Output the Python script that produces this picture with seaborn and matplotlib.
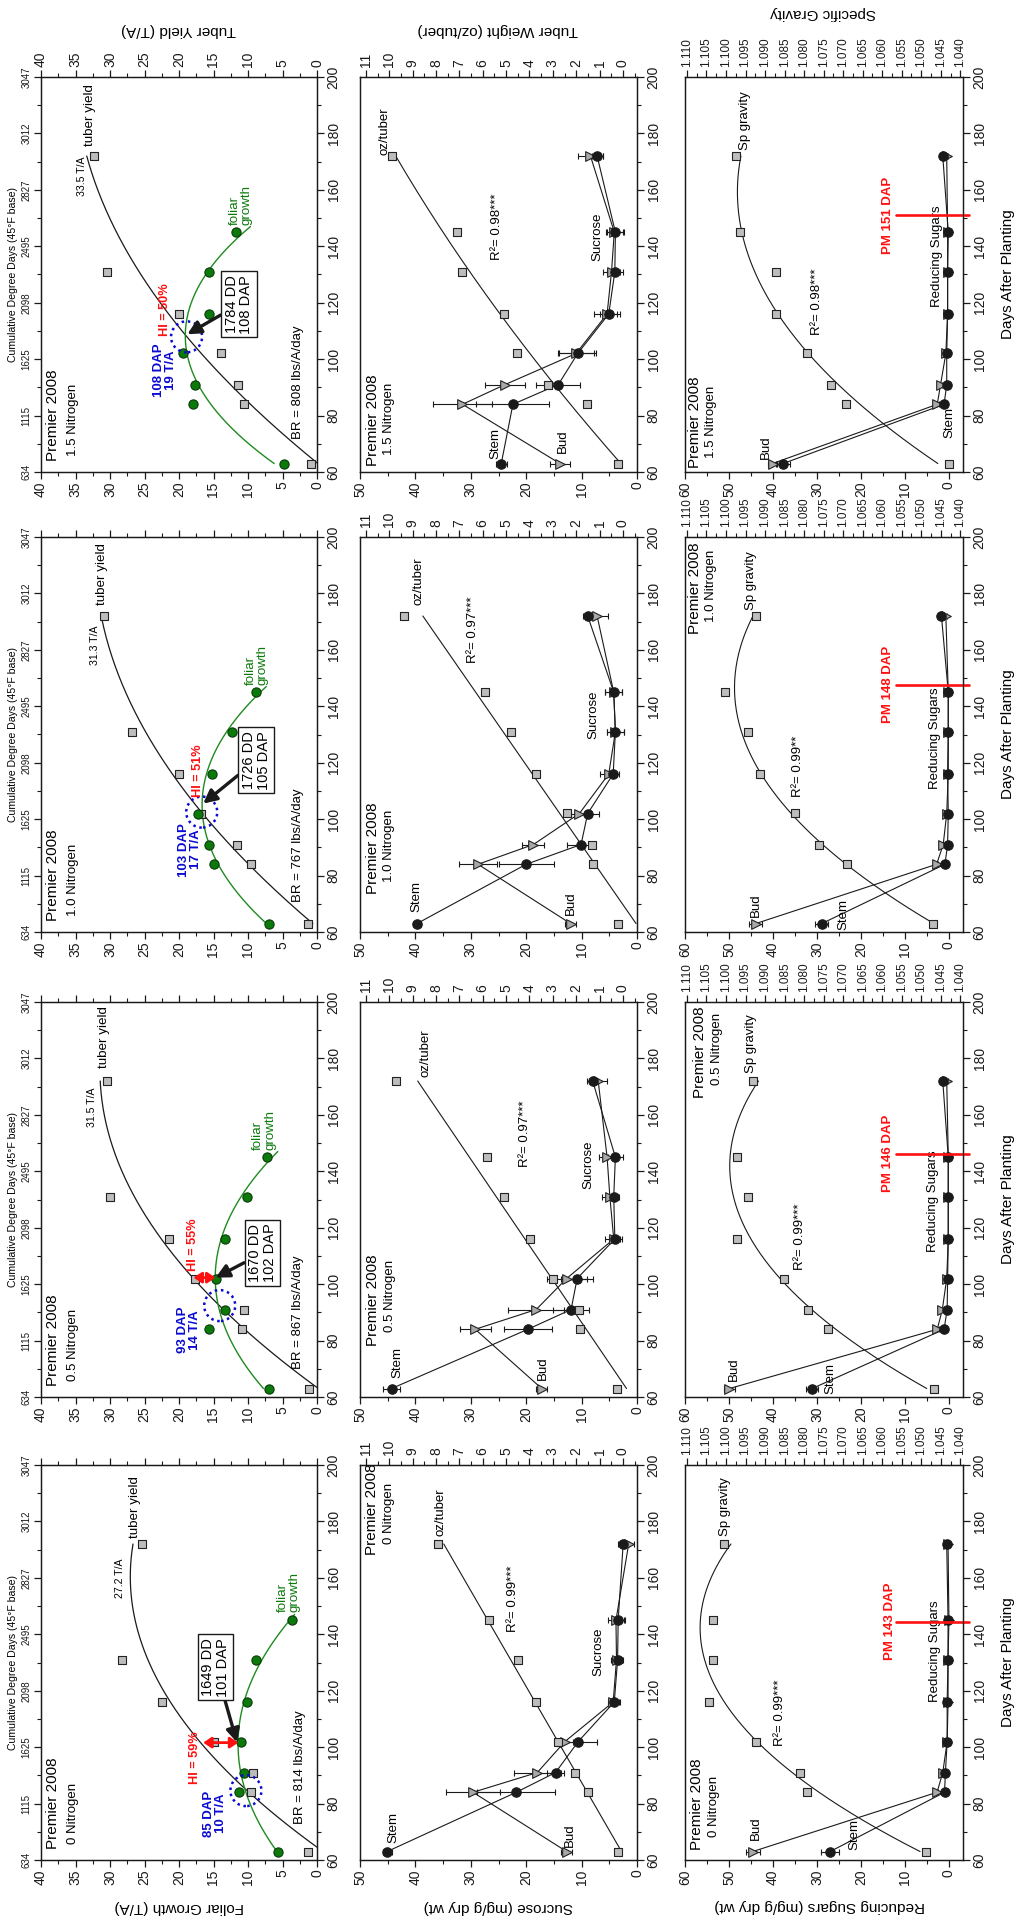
import numpy as np
import pandas as pd
import seaborn as sns
import matplotlib
matplotlib.use('Agg')
import matplotlib.pyplot as plt
from matplotlib.patches import Ellipse
from matplotlib.ticker import MultipleLocator

# ---------------------------------------------------------------- data
N_LEVELS = ['0', '0.5', '1.0', '1.5']
DAYS = [63, 84, 91, 102, 116, 131, 145, 172]
FOLIAR_DAYS = [63, 84, 91, 102, 116, 131, 145]
TUBER_DAYS = [63, 84, 91, 102, 116, 131, 172]
DAY_TICKS = [60, 80, 100, 120, 140, 160, 180, 200]
CDD_LABELS = ['634', '1115', '1625', '2098', '2495', '2827', '3012', '3047']

# foliar growth (T/A)
foliar_n00 = [5.6, 11.3, 10.6, 11.0, 10.1, 8.9, 3.6]
foliar_n05 = [6.9, 15.6, 13.4, 14.7, 13.3, 10.1, 7.3]
foliar_n10 = [6.9, 15.0, 15.6, 17.3, 15.2, 12.3, 8.9]
foliar_n15 = [4.8, 18.0, 17.7, 19.4, 15.6, 15.6, 11.7]
# tuber yield (T/A)
tuber_n00 = [1.3, 9.5, 9.3, 15.0, 22.5, 28.3, 25.4]
tuber_n05 = [1.1, 10.8, 10.6, 17.7, 21.5, 30.0, 30.5]
tuber_n10 = [1.35, 9.5, 11.6, 16.8, 20.0, 26.8, 30.8]
tuber_n15 = [0.8, 10.6, 11.4, 13.9, 20.0, 30.5, 32.3]

# sucrose (mg/g dry wt): stem and bud, with error
suc_stem_n00 = [45.1, 21.8, 14.7, 10.6, 4.1, 3.5, 3.4, 2.5]
suc_stem_err_n00 = [0.8, 7.0, 1.5, 3.3, 1.0, 1.0, 1.2, 1.0]
suc_bud_n00 = [12.7, 29.6, 18.0, 13.0, 4.3, 3.7, 3.8, 1.5]
suc_bud_err_n00 = [1.0, 4.8, 4.2, 1.5, 1.0, 1.0, 1.5, 1.0]
suc_stem_n05 = [44.3, 19.7, 11.9, 10.8, 4.0, 4.2, 3.9, 8.0]
suc_stem_err_n05 = [1.5, 4.3, 3.3, 2.9, 1.0, 1.0, 1.3, 1.0]
suc_bud_n05 = [17.2, 29.2, 18.2, 12.7, 4.2, 4.9, 5.4, 7.0]
suc_bud_err_n05 = [1.0, 2.8, 5.0, 3.6, 1.5, 1.4, 1.5, 1.5]
suc_stem_n10 = [39.7, 20.0, 10.1, 8.9, 4.3, 3.9, 4.2, 8.9]
suc_stem_err_n10 = [0.8, 5.0, 2.6, 2.1, 1.0, 1.5, 1.5, 0.8]
suc_bud_n10 = [12.0, 28.7, 18.7, 10.4, 5.1, 3.9, 4.2, 7.2]
suc_bud_err_n10 = [1.0, 3.4, 2.0, 1.5, 1.5, 1.5, 1.5, 1.9]
suc_stem_n15 = [24.5, 22.4, 14.2, 10.7, 5.1, 4.0, 3.9, 7.2]
suc_stem_err_n15 = [1.0, 6.6, 4.0, 3.3, 1.5, 1.5, 1.5, 1.0]
suc_bud_n15 = [13.9, 31.5, 23.8, 11.0, 5.4, 4.6, 4.1, 8.4]
suc_bud_err_n15 = [1.8, 5.3, 3.6, 3.2, 2.3, 1.5, 1.5, 2.2]

# tuber weight (oz/tuber)
oz_n00 = [0.2, 1.5, 2.05, 2.8, 3.7, 4.5, 5.75, 7.9]
oz_n05 = [0.27, 1.84, 1.9, 3.0, 3.97, 5.1, 5.8, 9.7]
oz_n10 = [0.2, 1.3, 1.34, 2.4, 3.7, 4.8, 5.9, 9.36]
oz_n15 = [0.2, 1.55, 3.2, 4.54, 5.1, 6.9, 7.1, 9.9]
OZ_FIT_ORDER = [1, 1, 1, 2]

# reducing sugars (mg/g dry wt)
rs_stem_n00 = [27.0, 1.0, 0.8, 0.4, 0.4, 0.2, 0.2, 0.5]
rs_bud_n00 = [44.6, 2.7, 1.4, 0.4, 0.2, 0.2, 0.0, 0.2]
rs_stem_n05 = [31.1, 1.1, 0.4, 0.3, 0.15, 0.15, 0.15, 1.4]
rs_bud_n05 = [49.9, 2.65, 1.5, 0.5, 0.15, 0.15, 0.15, 0.5]
rs_stem_n10 = [28.9, 0.9, 0.3, 0.15, 0.3, 0.15, 0.15, 1.7]
rs_bud_n10 = [43.9, 2.8, 1.3, 0.5, 0.15, 0.15, 0.15, 0.7]
rs_stem_n15 = [37.7, 1.1, 0.5, 0.5, 0.3, 0.3, 0.15, 1.4]
rs_bud_n15 = [40.1, 2.65, 1.9, 0.7, 0.3, 0.3, 0.3, 0.5]
rs_stem_err_n00 = [2.1, 0.3, 0.3, 0.3, 0.3, 0.3, 0.3, 0.3]
rs_bud_err_n00 = [1.6, 0.3, 0.3, 0.3, 0.3, 0.3, 0.3, 0.3]
rs_stem_err_n05 = [1.3, 0.3, 0.3, 0.3, 0.3, 0.3, 0.3, 0.3]
rs_bud_err_n05 = [1.3, 0.3, 0.3, 0.3, 0.3, 0.3, 0.3, 0.3]
rs_stem_err_n10 = [1.5, 0.3, 0.3, 0.3, 0.3, 0.3, 0.3, 0.3]
rs_bud_err_n10 = [1.5, 0.3, 0.3, 0.3, 0.3, 0.3, 0.3, 0.3]
rs_stem_err_n15 = [1.5, 0.3, 0.3, 0.3, 0.3, 0.3, 0.3, 0.3]
rs_bud_err_n15 = [1.0, 0.3, 0.3, 0.3, 0.3, 0.3, 0.3, 0.3]

# specific gravity
sg_n00 = [1.0488, 1.0792, 1.0811, 1.0922, 1.1044, 1.1033, 1.1033, 1.1005]
sg_n05 = [1.0468, 1.0739, 1.0790, 1.0852, 1.0973, 1.0943, 1.0973, 1.0932]
sg_n10 = [1.0469, 1.0690, 1.0762, 1.0822, 1.0912, 1.0943, 1.1003, 1.0924]
sg_n15 = [1.0428, 1.0692, 1.0732, 1.0793, 1.0873, 1.0873, 1.0965, 1.0975]

# annotation texts / values
HI_TEXT = ['HI = 59%', 'HI = 55%', 'HI = 51%', 'HI = 50%']
BR_TEXT = ['BR = 814 lbs/A/day', 'BR = 867 lbs/A/day', 'BR = 767 lbs/A/day', 'BR = 808 lbs/A/day']
DD_BOX = ['1649 DD\n101 DAP', '1670 DD\n102 DAP', '1726 DD\n105 DAP', '1784 DD\n108 DAP']
DAP_TEXT = ['85 DAP\n10 T/A', '93 DAP\n14 T/A', '103 DAP\n17 T/A', '108 DAP\n19 T/A']
YIELD_TEXT = ['27.2 T/A', '31.5 T/A', '31.3 T/A', '33.5 T/A']
R2_SUC = ['0.99***', '0.97***', '0.97***', '0.98***']
R2_SG = ['0.99***', '0.99***', '0.99**', '0.98***']
PM_DAP = [143, 146, 148, 151]
PM_LINE_DAY = [144.5, 146.3, 147.7, 151.0]

FOLIAR = [foliar_n00, foliar_n05, foliar_n10, foliar_n15]
TUBER = [tuber_n00, tuber_n05, tuber_n10, tuber_n15]
SUC_STEM = [suc_stem_n00, suc_stem_n05, suc_stem_n10, suc_stem_n15]
SUC_STEM_ERR = [suc_stem_err_n00, suc_stem_err_n05, suc_stem_err_n10, suc_stem_err_n15]
SUC_BUD = [suc_bud_n00, suc_bud_n05, suc_bud_n10, suc_bud_n15]
SUC_BUD_ERR = [suc_bud_err_n00, suc_bud_err_n05, suc_bud_err_n10, suc_bud_err_n15]
OZ = [oz_n00, oz_n05, oz_n10, oz_n15]
RS_STEM = [rs_stem_n00, rs_stem_n05, rs_stem_n10, rs_stem_n15]
RS_BUD = [rs_bud_n00, rs_bud_n05, rs_bud_n10, rs_bud_n15]
RS_STEM_ERR = [rs_stem_err_n00, rs_stem_err_n05, rs_stem_err_n10, rs_stem_err_n15]
RS_BUD_ERR = [rs_bud_err_n00, rs_bud_err_n05, rs_bud_err_n10, rs_bud_err_n15]
SG = [sg_n00, sg_n05, sg_n10, sg_n15]

# ---------------------------------------------------------------- layout
W, H = 1021, 1923
PH = 395
TOPS = [1465, 1002, 537, 77]
FOL_X = (41, 317)
SUC_X = (360, 637)
RS_X = (685, 963)

FOL_POS = [
    dict(circle=(10.3, 84.6), dap=(14.8, 76.5), hi=(17.7, 96.4), hi_arrow=(16.5, 11.4, 101.6),
         box=(14.7, 128.3), tip=(11.6, 101.7), br=(2.5, 93), tl=(26.4, 174), ta=(28.5, 153), fg=(4.15, 148)),
    dict(circle=(14.1, 92.4), dap=(18.6, 83.8), hi=(18.0, 114), hi_arrow=(17.9, 14.7, 102.3),
         box=(7.9, 111), tip=(14.7, 102.3), br=(2.7, 90), tl=(30.9, 176.6), ta=(32.6, 155.8), fg=(7.65, 147.5)),
    dict(circle=(16.7, 102.5), dap=(18.4, 89.2), hi=(17.3, 117), hi_arrow=None,
         box=(8.8, 120.8), tip=(16.5, 105.5), br=(2.7, 90.7), tl=(31.2, 175.8), ta=(32.2, 154.5), fg=(8.75, 147.4)),
    dict(circle=(18.9, 107.9), dap=(22.0, 96), hi=(22.0, 117.7), hi_arrow=None,
         box=(11.3, 119.4), tip=(18.8, 108.8), br=(2.7, 91.7), tl=(32.9, 175.5), ta=(34.1, 157.7), fg=(11.1, 147.7)),
]
SUC_POS = [
    dict(prem=(47.8, 168), nit=(44.7, 172), oz=(7.8, 175), r2=(22.4, 152.5), suc=(7.0, 133.8), stem=(44.0, 66), bud=(12.2, 64.5)),
    dict(prem=(47.6, 78), nit=(44.6, 83), oz=(8.46, 173.4), r2=(20.2, 153.4), suc=(8.7, 142.3), stem=(43.3, 66.7), bud=(17.0, 66)),
    dict(prem=(47.6, 73.6), nit=(44.7, 77.7), oz=(8.75, 176), r2=(29.6, 167.2), suc=(7.8, 137), stem=(39.9, 67), bud=(12.0, 65.9)),
    dict(prem=(47.6, 62.1), nit=(44.7, 65.9), oz=(10.2, 172.3), r2=(25.3, 146.8), suc=(7.2, 143.3), stem=(25.6, 64.5), bud=(13.4, 66.8)),
]
RS_POS = [
    dict(prem=(57.3, 63.4), nit=(53.4, 68), sg=(51.0, 175), r2=(38.4, 112.3), rs=(3.2, 134), pm=13.4, stem=(21.4, 63.4), bud=(44.0, 67)),
    dict(prem=(56.6, 165.8), nit=(52.8, 170.5), sg=(45.0, 175), r2=(33.9, 116.8), rs=(3.6, 129.3), pm=13.9, stem=(27.0, 61), bud=(49.0, 65.5)),
    dict(prem=(57.7, 165.7), nit=(54.0, 169.9), sg=(45.0, 174), r2=(34.3, 118.7), rs=(3.2, 128.8), pm=13.9, stem=(24.0, 60.6), bud=(43.9, 65.3)),
    dict(prem=(57.7, 61.5), nit=(54.2, 65.1), sg=(46.4, 174.3), r2=(29.9, 120.3), rs=(2.8, 136.5), pm=13.9, stem=(-0.2, 72), bud=(41.7, 64.5)),
]

BLACK = '#1a1a1a'
SQ_FACE = '#bdbdbd'
TRI_FACE = '#a9a9a9'
GREEN = '#0b7a0b'
GREEN_LINE = '#1f8b1f'
BLUE = '#0a0ad2'
RED = '#ff1010'

sns.set_theme(style='ticks')
plt.rcParams['font.family'] = ['Liberation Sans', 'DejaVu Sans']
plt.rcParams['axes.linewidth'] = 0.9
plt.rcParams['axes.edgecolor'] = BLACK
plt.rcParams['xtick.color'] = BLACK
plt.rcParams['ytick.color'] = BLACK
plt.rcParams['text.color'] = 'black'
plt.rcParams['axes.facecolor'] = 'white'

fig = plt.figure(figsize=(W / 100, H / 100), dpi=100)
fig.patch.set_facecolor('white')


def panel_rect(xr, top):
    x0, x1 = xr
    return [x0 / W, 1 - (top + PH) / H, (x1 - x0) / W, PH / H]


def rtext(ax, xy, s, ha='center', va='bottom', **kw):
    return ax.text(xy[0], xy[1], s, rotation=90, ha=ha, va=va, **kw)


def fit_curve(ax, days, vals, deg, d0, d1, color, lw):
    c = np.polyfit(days, vals, deg)
    dd = np.linspace(d0, d1, 200)
    sns.lineplot(x=np.polyval(c, dd), y=dd, orient='y', sort=False, estimator=None,
                 color=color, lw=lw, ax=ax, legend=False, zorder=2)


def connect(ax, x, y):
    sns.lineplot(x=x, y=y, orient='y', sort=False, estimator=None,
                 color=BLACK, lw=0.8, ax=ax, legend=False, zorder=2)


def pts(ax, x, y, marker, s, face, edge='#222222', lw=0.8, z=4):
    sns.scatterplot(x=x, y=y, marker=marker, s=s, color=face, edgecolor=edge,
                    linewidth=lw, ax=ax, zorder=z, legend=False, clip_on=False)


def errs(ax, x, y, e):
    ax.errorbar(x, y, xerr=e, fmt='none', ecolor=BLACK, elinewidth=0.8,
                capsize=2.5, capthick=0.8, zorder=3)


def style_days(ax):
    ax.set_ylim(60, 200)
    ax.yaxis.tick_right()
    ax.set_yticks(DAY_TICKS)
    ax.set_yticklabels([str(d) for d in DAY_TICKS], rotation=90, va='center', fontsize=10)
    ax.yaxis.set_minor_locator(MultipleLocator(10))
    ax.tick_params(axis='y', which='major', direction='out', length=5, width=0.9, pad=2,
                   left=False, right=True, labelleft=False, labelright=True)
    ax.tick_params(axis='y', which='minor', direction='out', length=3, width=0.8,
                   left=False, right=True)
    ax.set_xlabel('')
    ax.set_ylabel('')


def style_x(ax, lim, ticks, labels, minor, side, show=True, fs=10):
    ax.set_xlim(*lim)
    ax.set_xticks(ticks)
    ax.set_xticklabels(labels, rotation=90, fontsize=fs)
    ax.xaxis.set_minor_locator(MultipleLocator(minor))
    if side == 'bottom':
        ax.tick_params(axis='x', which='both', direction='out', bottom=True, top=False,
                       labelbottom=show, labeltop=False)
    else:
        ax.xaxis.set_ticks_position('top')
        ax.tick_params(axis='x', which='both', direction='out', bottom=False, top=True,
                       labelbottom=False, labeltop=show)
    ax.tick_params(axis='x', which='major', length=5, width=0.9, pad=2)
    ax.tick_params(axis='x', which='minor', length=3, width=0.8)
    ax.set_xlabel('')
    ax.set_ylabel('')


for i in range(4):
    top = TOPS[i]

    # ------------------------------------------------ foliar / tuber yield
    P = FOL_POS[i]
    ax = fig.add_axes(panel_rect(FOL_X, top))
    cdd = ax.twinx()
    fit_curve(ax, TUBER_DAYS, TUBER[i], 2, 63, 172, BLACK, 0.9)
    fit_curve(ax, FOLIAR_DAYS, FOLIAR[i], 2, 63, 147, GREEN_LINE, 1.0)
    pts(ax, TUBER[i], TUBER_DAYS, 's', 30, SQ_FACE)
    pts(ax, FOLIAR[i], FOLIAR_DAYS, 'o', 44, GREEN, edge='#0a3a0a')

    ax.add_patch(Ellipse(P['circle'], width=4.5, height=11.0, fill=False, ec=BLUE,
                         lw=1.8, ls=(0, (1, 1.5)), zorder=5))
    rtext(ax, P['dap'], DAP_TEXT[i], va='center', color=BLUE, fontsize=9.5,
          fontweight='bold', linespacing=1.0, multialignment='center')
    rtext(ax, P['hi'], HI_TEXT[i], va='center', color=RED, fontsize=9.2, fontweight='bold', zorder=6)
    if P['hi_arrow'] is not None:
        x0, x1, d = P['hi_arrow']
        ax.annotate('', xy=(x1, d), xytext=(x0, d),
                    arrowprops=dict(arrowstyle='<|-|>,head_length=0.6,head_width=0.4', color=RED,
                                    lw=2.0, shrinkA=0, shrinkB=0, mutation_scale=8), zorder=6)
    ax.annotate(DD_BOX[i], xy=P['tip'], xytext=P['box'], rotation=90, ha='center', va='center',
                fontsize=10.5, linespacing=1.05,
                bbox=dict(boxstyle='square,pad=0.25', fc='white', ec=BLACK, lw=1.0),
                arrowprops=dict(arrowstyle='-|>,head_length=0.8,head_width=0.4', color=BLACK,
                                lw=2.4, shrinkA=0, shrinkB=0, mutation_scale=10), zorder=6)
    rtext(ax, P['br'], BR_TEXT[i], va='center', fontsize=9.5)
    rtext(ax, (38.3, 64), 'Premier 2008', fontsize=11)
    rtext(ax, (35.4, 65.5), N_LEVELS[i] + ' Nitrogen', fontsize=9.5)
    rtext(ax, P['tl'], 'tuber yield', fontsize=9.6)
    rtext(ax, P['ta'], YIELD_TEXT[i], fontsize=7.6)
    rtext(ax, P['fg'], 'foliar\ngrowth', color=GREEN, fontsize=9.6, multialignment='left',
          linespacing=1.0)

    style_x(ax, (40, 0), list(range(0, 41, 5)), [str(v) for v in range(0, 41, 5)], 2.5, 'bottom')
    ax.tick_params(axis='x', which='both', top=True, labeltop=(i == 3))
    style_days(ax)
    cdd.set_ylim(60, 200)
    cdd.yaxis.tick_left()
    cdd.set_yticks(DAY_TICKS)
    cdd.set_yticklabels(CDD_LABELS, rotation=90, va='center', fontsize=7)
    cdd.yaxis.set_minor_locator(MultipleLocator(10))
    cdd.tick_params(axis='y', which='major', direction='out', length=5, width=0.9, pad=2,
                    left=True, right=False, labelleft=True, labelright=False)
    cdd.tick_params(axis='y', which='minor', direction='out', length=3, width=0.8,
                    left=True, right=False)
    cdd.set_ylabel('')
    yc = 1 - (top + PH / 2) / H
    fig.text(13 / W, yc, 'Cumulative Degree Days (45\u00b0F base)', rotation=90,
             ha='center', va='center', fontsize=7.6)

    # ------------------------------------------------ sucrose / tuber weight
    S = SUC_POS[i]
    ax = fig.add_axes(panel_rect(SUC_X, top))
    tw = ax.twiny()
    connect(ax, SUC_STEM[i], DAYS)
    connect(ax, SUC_BUD[i], DAYS)
    errs(ax, SUC_BUD[i], DAYS, SUC_BUD_ERR[i])
    errs(ax, SUC_STEM[i], DAYS, SUC_STEM_ERR[i])
    pts(ax, SUC_BUD[i], DAYS, '>', 48, TRI_FACE)
    pts(ax, SUC_STEM[i], DAYS, 'o', 46, BLACK, edge=BLACK)
    fit_curve(tw, DAYS, OZ[i], OZ_FIT_ORDER[i], 63, 172, BLACK, 0.8)
    pts(tw, OZ[i], DAYS, 's', 30, SQ_FACE)

    rtext(ax, S['prem'], 'Premier 2008', fontsize=11)
    rtext(ax, S['nit'], N_LEVELS[i] + ' Nitrogen', fontsize=9.5)
    rtext(tw, S['oz'], 'oz/tuber', fontsize=9.5)
    rtext(ax, S['r2'], 'R\u00b2= ' + R2_SUC[i], va='center', fontsize=9.5)
    rtext(ax, S['suc'], 'Sucrose', va='center', fontsize=9.5)
    rtext(ax, S['stem'], 'Stem', fontsize=9.5)
    rtext(ax, S['bud'], 'Bud', fontsize=9.5)

    style_x(ax, (50, 0), list(range(0, 51, 10)), [str(v) for v in range(0, 51, 10)], 5, 'bottom')
    style_x(tw, (11.25, -0.6), list(range(0, 12)), [str(v) for v in range(0, 12)], 0.5, 'top')
    style_days(ax)

    # ------------------------------------------------ reducing sugars / specific gravity
    R = RS_POS[i]
    ax = fig.add_axes(panel_rect(RS_X, top))
    tw = ax.twiny()
    connect(ax, RS_STEM[i], DAYS)
    connect(ax, RS_BUD[i], DAYS)
    errs(ax, RS_BUD[i], DAYS, RS_BUD_ERR[i])
    errs(ax, RS_STEM[i], DAYS, RS_STEM_ERR[i])
    pts(ax, RS_BUD[i], DAYS, '>', 48, TRI_FACE)
    pts(ax, RS_STEM[i], DAYS, 'o', 46, BLACK, edge=BLACK)
    fit_curve(tw, DAYS, SG[i], 2, 63, 172, BLACK, 0.8)
    pts(tw, SG[i], DAYS, 's', 30, SQ_FACE)
    ax.plot([12.0, -4.5], [PM_LINE_DAY[i], PM_LINE_DAY[i]], color=RED, lw=1.9,
            clip_on=False, zorder=5)

    rtext(ax, R['prem'], 'Premier 2008', fontsize=11)
    rtext(ax, R['nit'], N_LEVELS[i] + ' Nitrogen', fontsize=9.5)
    rtext(ax, R['sg'], 'Sp gravity', fontsize=9.5)
    rtext(ax, R['r2'], 'R\u00b2= ' + R2_SG[i], va='center', fontsize=9.5)
    rtext(ax, R['rs'], 'Reducing Sugars', va='center', fontsize=9.5)
    rtext(ax, (R['pm'], PM_LINE_DAY[i]), 'PM %d DAP' % PM_DAP[i], va='center', color=RED,
          fontsize=9.5, fontweight='bold')
    rtext(ax, R['stem'], 'Stem', fontsize=9.5)
    rtext(ax, R['bud'], 'Bud', fontsize=9.5)

    style_x(ax, (60, -3.2), list(range(0, 61, 10)), [str(v) for v in range(0, 61, 10)], 5, 'bottom')
    sg_ticks = list(np.round(np.linspace(1.040, 1.110, 15), 3))
    style_x(tw, (1.1105, 1.0393), sg_ticks, ['%.3f' % v for v in sg_ticks], 0.0025, 'top', fs=8.5)
    style_days(ax)
    fig.text(1008 / W, yc, 'Days After Planting', rotation=90, ha='center', va='center', fontsize=11)

# outer axis titles
fig.text(179 / W, 1 - 1907 / H, 'Foliar Growth (T/A)', rotation=180, ha='center', va='center', fontsize=11)
fig.text(498 / W, 1 - 1907 / H, 'Sucrose (mg/g dry wt)', rotation=180, ha='center', va='center', fontsize=11)
fig.text(820 / W, 1 - 1906 / H, 'Reducing Sugars (mg/g dry wt)', rotation=180, ha='center', va='center', fontsize=11)
fig.text(179 / W, 1 - 30 / H, 'Tuber Yield (T/A)', rotation=180, ha='center', va='center', fontsize=11)
fig.text(498 / W, 1 - 30 / H, 'Tuber Weight (oz/tuber)', rotation=180, ha='center', va='center', fontsize=11)
fig.text(823 / W, 1 - 13 / H, 'Specific Gravity', rotation=180, ha='center', va='center', fontsize=11)

fig.savefig('out.png', dpi=100, facecolor='white')
